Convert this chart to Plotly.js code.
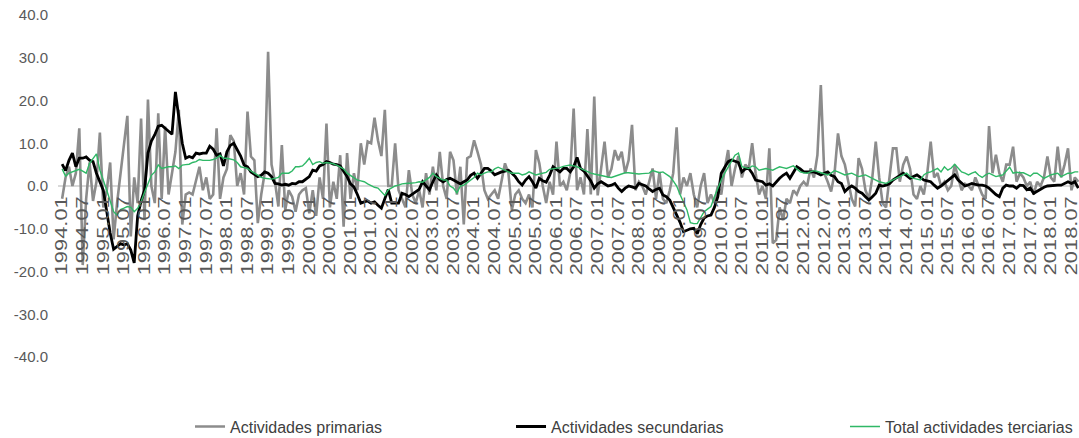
<!DOCTYPE html>
<html>
<head>
<meta charset="utf-8">
<script src="https://cdn.plot.ly/plotly-3.0.1.min.js"></script>
<style>
  html, body { margin: 0; padding: 0; background: #ffffff; }
  #chart { width: 1079px; height: 438px; }
</style>
</head>
<body>
<div id="chart"></div>
<script>
// Monthly periods 1994.01 .. 2018.09 (labels only)
const startYear = 1994;
const nMonths = 297;
const categories = [];
for (let i = 0; i < nMonths; i++) {
  const y = startYear + Math.floor(i / 12);
  const m = (i % 12) + 1;
  categories.push(y + '.' + (m < 10 ? '0' + m : m));
}
// Tick labels every six months
const tickLabels = categories.filter((c, i) => i % 6 === 0);

const seriesNames = ['Actividades primarias', 'Actividades secundarias', 'Total actividades terciarias'];

// Actividades primarias (annual variation, %)
const primarias = [
  -3, 2, 4.5, 0, 3, 13.5, -18.5, -3, 5.5, -3.5, 1, 12.5,
  -5, -1, 5.5, -12.5, -4, 3, 9, 16.4, -11.8, 2, -4, 15.8,
  -8, 20.2, 0, -4, 17, -3, 13.9, -2, 3, 8, 17.8, -9,
  -2, -1.5, -2, 1, 4.5, -1, 2, -3, -2, 13.5, -3, 2,
  4, 11.9, 10.5, 0, 3, -2, 17.4, 6.9, 6, -8.7, -2, 3,
  31.4, 5, 1, -4.8, 9.6, -5.6, -1, -2.5, -6, -2, -1, -0.5,
  -6.4, -1, -7, 2, -3, 14.6, -5, 1, -3, 7.2, -9.5, 7.7,
  -3, 3, -1, 10, 5, 10.4, 10, 16, 10.7, 7, 17.8, 0,
  0, 10, -1, -3, -5, 3.7, -2, -4, -1, -5, 3, -2,
  4.5, -1, 8, 0, -3, 8, 6, -2, 4.5, -9, 6.5, 7,
  10.7, 8, 5, -1, -3, -2, -1, -3, 1, 5.3, 3, -5.6,
  -2, -1, -3, -4, -2, -5, 8.4, 5.3, 0, -4, 1, -2,
  10.4, 0, 1, -1, 3, 18.1, -1, 2, -2, 13.3, -2, 20.9,
  -2.2, 4, 10.4, 2, 4, 8.4, 6, 8, 3, 6, 14.3, -1,
  1, 0, -2, 1, 4.1, -3, 3.3, -3, -4, -1, 3, 13.7,
  -2, 2, 0, 3, -2, -5, 0, 3, -4, -2, -4, 0,
  -2, 4, 8.4, 0, 4, 7, 2, 5, 4, 10, 3, -2,
  0, -3, 8.8, -13.4, -12.6, -5, -8, -3, -4, -1, -2, 0,
  1, 0, 4.1, 2, 7.2, 23.6, 3, 1, -1.3, 3, 12.3, 7,
  5, 1, -3, -4.8, 6.5, 4, -1, -3, 2, 10.4, 2, -4,
  -5, 2, 8.8, 8.8, 1, 5, 6.9, 4, -2, -3, 0, -2,
  3, 10.4, 2, 3, 0, 1, -1, 0, 5, 2, -1, 0.5,
  0, -1, 2, 0, -2, -3, 14, 3, 7.3, 3, 1, 5,
  5, 9.2, 1, 3, 2, 0, 1, -2, 1, 0, 2, 6.9,
  2, 1, 9.2, 2, 5, 8.8, -1, 2, 1
];

// Actividades secundarias
const secundarias = [
  5.1, 3.6, 6, 7.7, 4.5, 6.5, 6.5, 6.8, 6, 5.7, 3, 1,
  -1, -6, -11, -14.8, -14.2, -13.5, -13.8, -13.5, -15, -18, -7, -3.5,
  -1, 7.7, 10.5, 12, 14, 14.2, 13.5, 12.8, 12.1, 22, 16.2, 10,
  6.5, 6.9, 6.6, 7.7, 7.5, 7.7, 7.7, 9.3, 8.6, 7.2, 7.5, 4.7,
  8, 9.5, 10, 8.4, 7, 4.9, 4.5, 3.3, 2.8, 2.2, 2.5, 3.3,
  3, 2.2, 0.6, 0.5, 0.2, 0.4, 0.2, 0.6, 0.5, 1, 1, 1.5,
  2.2, 3.7, 3.5, 4.7, 5, 5.7, 5.5, 5.1, 5, 4.7, 3.5, 2.2,
  0.5, -0.2, -2, -4, -3.7, -3.5, -4, -3.7, -4.5, -5.2, -3, -0.8,
  -4, -4, -4, -1.7, -2, -2.5, -1.9, -1.2, -0.8, 1, 0, -0.9,
  1, 2.6, 1.5, 1, 1.5, 1.8, 1.4, 1, 0.5, 1, 1.4, 2.5,
  3, 1.8, 3, 4.1, 4.1, 3.5, 2.6, 3, 3.3, 3.5, 3.7, 3,
  2.2, 1, 0.2, 1.4, 2.2, 1, -0.5, 1.8, 1.2, 0.9, 2.5, 4.5,
  3.8, 3.3, 4.1, 4.1, 3.3, 4.5, 6.7, 4.1, 3.5, 2.2, 1.2, -0.5,
  0.5, 1, 0.5, 0, 0.2, 0.6, -0.5, -1.3, -0.5, 0, -0.2, -0.5,
  0.6, 0.3, 0, -0.7, -1.3, -0.8, -0.5, -2.1, -2.5, -3.3, -5, -6.4,
  -8.5, -10.7, -10.3, -10, -9.9, -11.2, -9, -7.5, -7, -6.8, -5, -2.5,
  3, 4.5, 5.7, 6.1, 5.8, 5.5, 3.3, 4, 4.1, 3, 1.4, 1.2,
  1, 0.2, 0.5, 0, 1, 1.8, 2.5, 3, 1.8, 3, 4.5, 4,
  3.3, 3.3, 3.3, 3.3, 3, 2.6, 3, 3.3, 2.5, 2.2, 1, 0.6,
  -1.3, -0.5, 0, -0.5, -1.3, -1.7, -2.5, -3.3, -2.5, -1.7, 0.2, 0,
  0.2, 0.5, 1.4, 2, 2.6, 3, 2.4, 1.8, 2.2, 2.6, 2, 1.4,
  1.2, 1, 0.2, -0.5, 0, 0.6, 1.2, 1.8, 2.6, 1.4, 0.8, 0,
  0.3, 0.6, 0.4, 0.2, 0.2, 0, -0.5, -1.3, -2, -2.5, -0.5, 0.2,
  0, 0, -0.5, 0.2, 0.1, -0.9, -0.5, -1.7, -1.2, -0.9, -0.3, 0,
  0.1, 0.1, 0.2, 0.2, 0.6, 1, 0.6, 1, -0.5
];

// Total actividades terciarias
const terciarias = [
  4, 2.3, 3, 3.3, 3.6, 3.9, 3.5, 3, 5.3, 6.5, 7.5, 3.7,
  1.5, -1, -3.5, -6, -6.8, -5.5, -5.2, -4.8, -5, -6, -5.2, -3.7,
  -1.5, 0.6, 2.5, 3.3, 4.9, 4.1, 4.3, 4.5, 4.5, 4.7, 4.1, 4.9,
  5, 5.1, 5.5, 5.7, 6.2, 6, 6, 6, 6.2, 6.5, 7.2, 6.5,
  6.5, 6.3, 6.1, 5.5, 4.5, 4.3, 4.1, 3.5, 3, 2.5, 2, 1.8,
  1.7, 1.6, 1.8, 2, 3, 3, 3, 3.5, 4.5, 4.5, 4.7, 5.5,
  6.5, 5, 5.5, 5.7, 5.3, 5.5, 5.4, 5.2, 4.9, 4.5, 4, 3,
  2.5, 1.8, 1.4, 1.2, 1, 0.5, 0, -0.3, -0.5, -1.3, -2.2, -0.9,
  -0.5, 0, 0.2, 0.5, 0.6, 0.6, 0.7, 0.8, 1, 0.9, 1.4, 2,
  3, 2.2, 1.8, 1.4, 1.4, 0, -0.5, -1.6, 0, 0.2, 0.8, 1.4,
  2, 3, 2.6, 3, 3.3, 3.3, 4, 4.4, 4, 3.7, 3.3, 3,
  3, 3, 2.6, 2.8, 3.3, 3, 2.6, 2.8, 3, 3.2, 3.9, 4,
  4.1, 4.3, 4.6, 4.8, 4.9, 4.7, 4.5, 4.1, 3.7, 3.3, 3, 2.8,
  2.6, 2.4, 2.3, 2.1, 2, 2.3, 2.6, 2.9, 3.1, 3.1, 3, 2.9,
  2.8, 2.9, 3, 3, 3.6, 3.3, 3.1, 3.3, 2.8, 2.2, 1.2, 0,
  -2, -4, -5.6, -8.6, -8.8, -8.8, -7.5, -6, -5.4, -4.8, -2.5, -0.5,
  1.4, 3, 4.5, 6, 7.2, 7.7, 4.5, 4.3, 4.1, 4.7, 4.5, 3.7,
  3.9, 4.1, 3.9, 3.7, 4.1, 4.5, 4.3, 4.1, 4.4, 4.7, 4, 3.3,
  3.1, 3, 3.3, 3.6, 3.4, 3.1, 2.9, 2.6, 3, 3.6, 3.3, 3,
  2.6, 2.8, 3, 2.6, 2.2, 2.4, 2.6, 2.2, 1.7, 1.4, 1, 0.8,
  0.6, 1, 1.4, 1.8, 2.2, 2.6, 3, 2.2, 1.8, 1.6, 1.4, 2.6,
  3.1, 3.3, 3.8, 4.1, 3.3, 4.5, 3.7, 4.2, 5.1, 4.2, 3.3, 3,
  2.6, 3, 3.3, 2.5, 2, 2.6, 3, 2.6, 2.2, 2.4, 2.6, 3.5,
  4.4, 3, 3.2, 3.1, 3.1, 2.7, 2.3, 3, 3, 2.4, 1.8, 2.2,
  2.6, 2.8, 3, 2.2, 2.6, 3, 3, 3.3, 3.3
];

const yTicks = [-40, -30, -20, -10, 0, 10, 20, 30, 40];

const FONT = '"Liberation Sans", Arial, sans-serif';

const traces = [
  { x: categories, y: primarias, name: seriesNames[0], type: 'scatter', mode: 'lines',
    line: { color: '#8c8c8c', width: 2.6 }, legend: 'legend' },
  { x: categories, y: secundarias, name: seriesNames[1], type: 'scatter', mode: 'lines',
    line: { color: '#000000', width: 2.8 }, legend: 'legend2' },
  { x: categories, y: terciarias, name: seriesNames[2], type: 'scatter', mode: 'lines',
    line: { color: '#2fb866', width: 1.4 }, legend: 'legend3' }
];

function legendAt(xPaper) {
  return {
    orientation: 'h',
    x: xPaper, xanchor: 'left',
    yref: 'container',
    y: 0.026, yanchor: 'middle',
    font: { family: FONT, size: 16, color: '#404040' },
    bgcolor: 'rgba(0,0,0,0)',
    borderwidth: 0
  };
}

const layout = {
  width: 1079,
  height: 438,
  margin: { l: 58, r: 0, t: 15, b: 81, autoexpand: false },
  paper_bgcolor: '#ffffff',
  plot_bgcolor: '#ffffff',
  font: { family: FONT, color: '#595959', size: 14 },
  showlegend: true,
  legend: legendAt(0.1293),
  legend2: legendAt(0.4437),
  legend3: legendAt(0.7708),
  xaxis: {
    type: 'category',
    range: [-1.2, 296.2],
    anchor: 'free',
    position: 0.5,
    showline: false,
    showgrid: false,
    zeroline: false,
    ticks: '',
    tickmode: 'array',
    tickvals: tickLabels,
    ticktext: tickLabels,
    tickangle: -90,
    ticklabelstandoff: 6,
    tickfont: { family: FONT, size: 16.5, color: '#595959' },
    fixedrange: true
  },
  yaxis: {
    range: [-40, 40],
    tickmode: 'array',
    tickvals: yTicks,
    ticktext: yTicks.map(v => v.toFixed(1)),
    showgrid: false,
    showline: false,
    ticks: '',
    zeroline: true,
    zerolinecolor: '#d9d9d9',
    zerolinewidth: 1.5,
    ticklabelstandoff: 9,
    tickfont: { family: FONT, size: 15, color: '#595959' },
    fixedrange: true
  }
};

Plotly.newPlot('chart', traces, layout, { displayModeBar: false, staticPlot: true }).then(function (gd) {
  // Stretch the rotated period labels lengthwise, as in the original
  gd.querySelectorAll('.xtick text').forEach(function (t) {
    t.setAttribute('textLength', '79');
    t.setAttribute('lengthAdjust', 'spacingAndGlyphs');
  });
});
</script>
</body>
</html>
